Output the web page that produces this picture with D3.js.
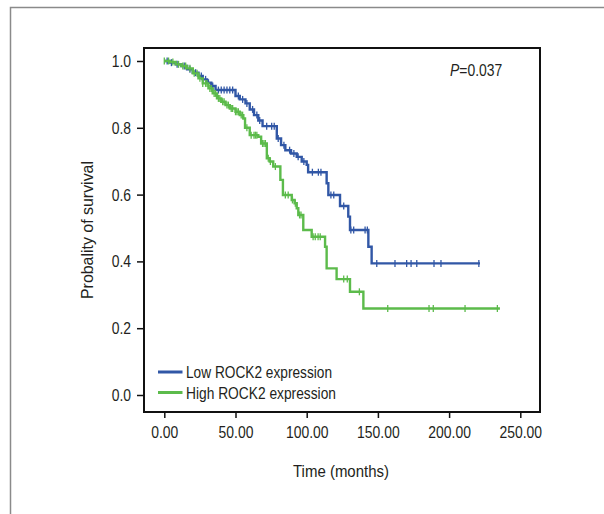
<!DOCTYPE html>
<html>
<head>
<meta charset="utf-8">
<script src="https://cdn.jsdelivr.net/npm/d3@7"></script>
<style>
  body { margin: 0; background: #fff; }
  svg text { font-family: "Liberation Sans", Arial, sans-serif; fill: #231f20; }
</style>
</head>
<body>
<div id="chart"></div>
<script>
// survival curves: time (months) of each drop and survival after it
var lowTimes = [0, 3, 8, 12, 16, 20, 24, 27, 30, 33, 36, 50, 53, 57, 60, 63, 66, 69, 79, 82, 85, 89, 93, 96.5, 100, 101, 114, 115.2, 123.4, 129.2, 130.4, 143.3, 145.6];
var lowSurv  = [1.0, 0.995, 0.99, 0.985, 0.975, 0.965, 0.955, 0.945, 0.935, 0.925, 0.913, 0.895, 0.885, 0.873, 0.855, 0.838, 0.822, 0.805, 0.768, 0.748, 0.733, 0.723, 0.713, 0.699, 0.689, 0.667, 0.634, 0.599, 0.566, 0.534, 0.494, 0.444, 0.394];
var lowEnd = 221.7;
var lowCensor = [2, 5, 9, 14, 18, 22, 26, 29, 31, 34, 38, 40, 42, 44, 46, 48, 52, 55, 58, 62, 65, 67, 71.9, 75.4, 77.2, 80, 84, 88, 91, 94, 98, 104, 108.2, 110, 117, 119, 126, 131, 133, 141, 142.6, 149.2, 162, 170.2, 173.3, 177.3, 189.4, 194.3, 220.9];

var highTimes = [0, 4, 8, 12, 16, 20, 24, 27, 31, 34, 37, 40, 43, 46, 50, 53, 55.5, 56.7, 60, 66, 68, 72, 74, 76.5, 81.5, 83.3, 89.5, 91.5, 93, 94.1, 97.6, 103.5, 112.9, 114, 121, 130.4, 139.8];
var highSurv  = [1.0, 0.997, 0.99, 0.985, 0.978, 0.963, 0.948, 0.933, 0.918, 0.903, 0.888, 0.878, 0.868, 0.858, 0.848, 0.838, 0.828, 0.8, 0.778, 0.773, 0.753, 0.709, 0.699, 0.684, 0.644, 0.599, 0.584, 0.574, 0.559, 0.539, 0.494, 0.474, 0.444, 0.379, 0.347, 0.309, 0.259];
var highEnd = 235.7;
var highCensor = [0, 3, 6, 10, 13, 15, 18, 21, 23, 25, 27, 29, 30, 32, 33, 35, 36, 38, 39, 41, 42, 44, 45, 47, 48, 50, 51, 52, 54, 55, 58, 61, 63, 64, 65, 69, 70, 71, 73, 74.5, 78, 85, 87, 90, 92, 95, 96, 104.5, 106, 108, 109.5, 126, 128.5, 137, 156.9, 185.9, 188.9, 211.2, 233.9];

var xTicks = [0, 50, 100, 150, 200, 250];
var yTicks = [0, 0.2, 0.4, 0.6, 0.8, 1.0];
var legendLabels = ["Low ROCK2 expression", "High ROCK2 expression"];
var colors = ["#3157a6", "#5cbb4b"];

var width = 604, height = 514;
var squeeze = 0.82; // the original uses a condensed face, so narrow the text a bit

var svg = d3.select("#chart").append("svg")
    .attr("width", width)
    .attr("height", height);

// outer figure frame (only left and top edges are in view)
svg.append("path")
    .attr("d", "M10.5,514V7.5H604")
    .attr("fill", "none")
    .attr("stroke", "#8a8a8a")
    .attr("stroke-width", 1.5);

var x = d3.scaleLinear().domain([0, 250]).range([164.3, 520.3]);
var y = d3.scaleLinear().domain([0, 1]).range([395, 61]);

// plot box
svg.append("rect")
    .attr("x", 144).attr("y", 48)
    .attr("width", 396).attr("height", 364)
    .attr("fill", "none")
    .attr("stroke", "#111")
    .attr("stroke-width", 2);

// axes
var yAxis = svg.append("g")
    .attr("transform", "translate(144,0)")
    .call(d3.axisLeft(y).tickValues(yTicks).tickFormat(d3.format(".1f")).tickSize(7).tickPadding(6));
var xAxis = svg.append("g")
    .attr("transform", "translate(0,412)")
    .call(d3.axisBottom(x).tickValues(xTicks).tickFormat(d3.format(".2f")).tickSize(6).tickPadding(8));

[xAxis, yAxis].forEach(function(ax){
  ax.select(".domain").remove();
  ax.selectAll("line").attr("stroke", "#111").attr("stroke-width", 1.5);
  ax.selectAll("text")
    .style("font-size", "17px")
    .attr("fill", "#231f20")
    .attr("transform", "scale(" + squeeze + ",1)");
});
yAxis.selectAll("text").attr("x", -13 / squeeze);

// survival at time t from a step series
function survAt(times, surv, t){
  var s = surv[0];
  for (var i = 0; i < times.length; i++){
    if (times[i] <= t) s = surv[i];
  }
  return s;
}

function drawCurve(times, surv, endT, censor, color){
  var pts = times.map(function(t, i){ return [t, surv[i]]; });
  pts.push([endT, surv[surv.length - 1]]);
  var line = d3.line()
      .x(function(d){ return x(d[0]); })
      .y(function(d){ return y(d[1]); })
      .curve(d3.curveStepAfter);
  svg.append("path")
      .datum(pts)
      .attr("d", line)
      .attr("fill", "none")
      .attr("stroke", color)
      .attr("stroke-width", 2.4);

  svg.append("g").selectAll("line")
      .data(censor)
      .enter().append("line")
      .attr("x1", function(d){ return x(d); })
      .attr("x2", function(d){ return x(d); })
      .attr("y1", function(d){ return y(survAt(times, surv, d)) - 3.5; })
      .attr("y2", function(d){ return y(survAt(times, surv, d)) + 3.5; })
      .attr("stroke", color)
      .attr("stroke-width", 1.3);
}

drawCurve(lowTimes, lowSurv, lowEnd, lowCensor, colors[0]);
drawCurve(highTimes, highSurv, highEnd, highCensor, colors[1]);

// legend
var legendWidths = [146, 150];
var legend = svg.append("g");
legendLabels.forEach(function(lbl, i){
  var ly = 372 + i * 20.5;
  legend.append("line")
      .attr("x1", 158).attr("x2", 182.5)
      .attr("y1", ly).attr("y2", ly)
      .attr("stroke", colors[i])
      .attr("stroke-width", 3);
  legend.append("text")
      .attr("x", 186).attr("y", ly + 6)
      .style("font-size", "17px")
      .attr("textLength", legendWidths[i])
      .attr("lengthAdjust", "spacingAndGlyphs")
      .text(lbl);
});

// p value
var pText = svg.append("text")
    .attr("transform", "translate(450,76) scale(" + squeeze + ",1)")
    .style("font-size", "17px");
pText.append("tspan").style("font-style", "italic").text("P");
pText.append("tspan").text("=0.037");

// axis titles
svg.append("text")
    .attr("x", 341).attr("y", 477)
    .attr("text-anchor", "middle")
    .style("font-size", "17px")
    .attr("textLength", 96)
    .attr("lengthAdjust", "spacingAndGlyphs")
    .text("Time (months)");
svg.append("text")
    .attr("transform", "translate(93,230) rotate(-90)")
    .attr("text-anchor", "middle")
    .style("font-size", "17px")
    .attr("textLength", 138)
    .attr("lengthAdjust", "spacingAndGlyphs")
    .text("Probality of survival");
</script>
</body>
</html>
